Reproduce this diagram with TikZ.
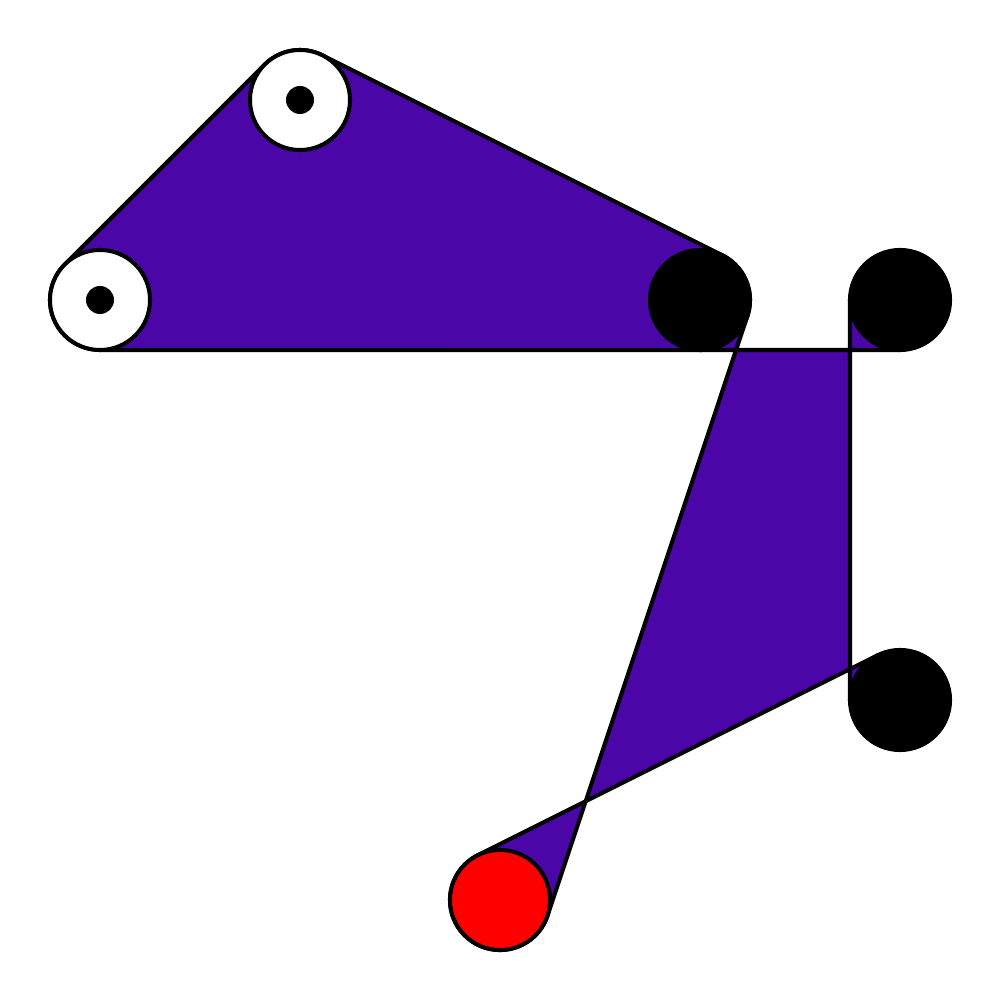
\documentclass[tikz,border=0pt]{standalone}
\definecolor{linkpurple}{RGB}{74,6,166}
\begin{document}
\begin{tikzpicture}[x=0.01cm,y=0.01cm,
  linkbody/.style={fill=linkpurple,draw=black,line width=1.15pt,line join=round},
  fixedjoint/.style={circle,minimum size=1cm,inner sep=0pt,fill=white,draw=black,line width=1.15pt},
  pin/.style={circle,minimum size=0.28cm,inner sep=0pt,fill=black},
  movejoint/.style={circle,minimum size=1cm,inner sep=0pt,fill=black,draw=black,line width=1.15pt},
  redjoint/.style={circle,minimum size=1cm,inner sep=0pt,fill=red,draw=black,line width=1.15pt}]
\useasboundingbox (0,0) rectangle (1000,1000);
% link 1
\path[linkbody] (64.64,735.36) -- (264.64,935.36)
  arc[start angle=135, end angle=63.435, radius=0.5cm] -- (722.36,744.72)
  arc[start angle=63.435, end angle=-90, radius=0.5cm] -- (100,650)
  arc[start angle=-90, end angle=-225, radius=0.5cm] -- cycle;
% link 2
\path[linkbody] (700,650) -- (900,650)
  arc[start angle=-90, end angle=-180, radius=0.5cm] -- (850,300)
  arc[start angle=180, end angle=116.565, radius=0.5cm] -- (477.64,144.72)
  arc[start angle=116.565, end angle=341.565, radius=0.5cm] -- (747.43,684.19)
  arc[start angle=-18.435, end angle=-90, radius=0.5cm] -- cycle;
% joints
\node[fixedjoint] (j1) at (100,700) {};
\node[pin] (p1) at (j1.center) {};
\node[fixedjoint] (j2) at (300,900) {};
\node[pin] (p2) at (j2.center) {};
\node[movejoint] (j3) at (700,700) {};
\node[movejoint] (j4) at (900,700) {};
\node[movejoint] (j5) at (900,300) {};
\node[redjoint] (j6) at (500,100) {};
\end{tikzpicture}
\end{document}
